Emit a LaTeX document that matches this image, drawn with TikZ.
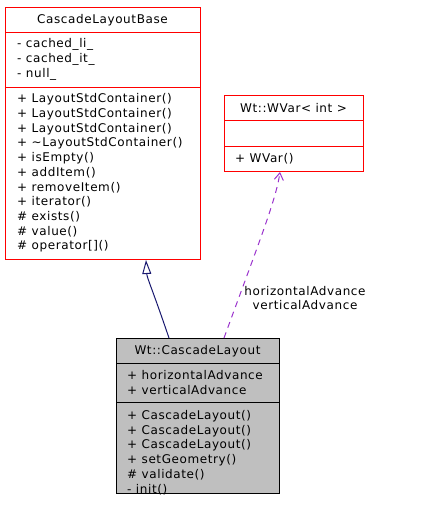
\documentclass[tikz,border=0pt]{standalone}
\usepackage{fontspec}
\setmainfont{DejaVu Sans}[LetterSpace=5]
\usetikzlibrary{arrows.meta,positioning}
\definecolor{edgeblue}{HTML}{191970}
\definecolor{edgepurple}{HTML}{9A32CD}

\begin{document}
\begin{tikzpicture}[x=1pt,y=-1pt,
	classbox/.style={draw=red,line width=1pt,anchor=north west,inner sep=0pt},
	classname/.style={inner sep=0pt,font=\fontsize{12}{14.7}\selectfont},
	member/.style={anchor=west,align=left,inner sep=0pt,font=\fontsize{12}{14.7}\selectfont},
	divider/.style={draw=red,line width=1pt}]
	\useasboundingbox (0,0) rectangle (424,507);
	% classes
	\node[classbox,minimum width=195pt,minimum height=252pt] (base) at (5,7) {};
	\node[classbox,minimum width=139pt,minimum height=76pt] (wvar) at (224,95) {};
	\node[classbox,draw=black,fill=gray!50,minimum width=163pt,minimum height=155pt] (layout) at (116,338) {};
	\draw[divider] (5,32)--(200,32);
	\draw[divider] (5,87)--(200,87);
	\draw[divider] (224,120)--(363,120);
	\draw[divider] (224,146)--(363,146);
	\draw[divider,draw=black] (116,363)--(279,363);
	\draw[divider,draw=black] (116,402)--(279,402);
	% texts
	\node[classname] (basename) at (102.5,20) {CascadeLayoutBase};
	\node[member] (baseattr) at (17,59.5) {- cached\_li\_\\- cached\_it\_\\- null\_};
	\node[member] (baseops) at (17,173) {+ LayoutStdContainer()\\+ LayoutStdContainer()\\+ LayoutStdContainer()\\+ \textasciitilde LayoutStdContainer()\\+ isEmpty()\\+ addItem()\\+ removeItem()\\+ iterator()\\\# exists()\\\# value()\\\# operator[]()};
	\node[classname] (wvarname) at (293.5,108) {Wt::WVar< int >};
	\node[member] (wvarops) at (235,159) {+ WVar()};
	\node[classname] (layoutname) at (197.5,351) {Wt::CascadeLayout};
	\node[member] (layoutattr) at (127,382.5) {+ horizontalAdvance\\+ verticalAdvance};
	\node[member] (layoutops) at (127,452.5) {+ CascadeLayout()\\+ CascadeLayout()\\+ CascadeLayout()\\+ setGeometry()\\\# validate()\\- init()};
	% relations
	\draw[edgeblue,line width=1pt,-{Triangle[open,length=14pt,width=9pt,fill=white]}] ([xshift=53pt]layout.north west) .. controls (152,288) and (147,278) .. ([xshift=141pt]base.south west);
	\draw[edgepurple,line width=1pt,dash pattern=on 6pt off 5pt,-{Straight Barb[length=7pt,width=9pt]}] ([xshift=108pt]layout.north west) .. controls (258,245) and (276,200) .. ([xshift=56pt]wvar.south west);
	\node[classname,align=center] (advlabel) at (305,298) {horizontalAdvance\\verticalAdvance};
\end{tikzpicture}
\end{document}
